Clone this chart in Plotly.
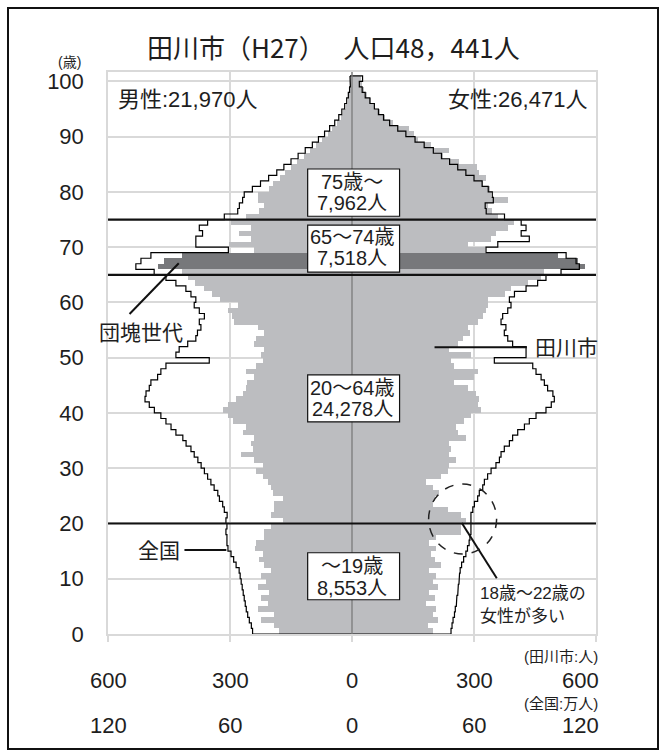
import plotly.graph_objects as go

# ---------------- data ----------------
ages = list(range(0, 101))

# Tagawa city population by age (persons)
tagawa_male = [
    180, 191, 224, 191, 232, 207, 224, 203, 232, 212,
    224, 199, 216, 228, 220, 238, 236, 216, 217, 199,
    170, 199, 191, 191, 170, 195, 199, 207, 220, 236,
    220, 240, 273, 244, 248, 240, 269, 261, 293, 306,
    318, 306, 285, 269, 261, 257, 240, 261, 236, 220,
    224, 216, 240, 236, 216, 232, 289, 294, 306, 281,
    325, 345, 365, 385, 404, 417, 476, 462, 419, 240,
    302, 248, 277, 248, 298, 261, 228, 216, 232, 232,
    205, 195, 178, 165, 150, 135, 118, 103, 88, 73,
    60, 48, 37, 28, 21, 15, 11, 7, 5, 3, 4,
]
tagawa_female = [
    198, 186, 211, 198, 207, 182, 203, 190, 211, 198,
    207, 190, 219, 203, 194, 207, 190, 207, 268, 268,
    280, 268, 235, 198, 205, 215, 198, 182, 219, 235,
    239, 256, 239, 243, 239, 280, 260, 256, 276, 293,
    317, 309, 313, 305, 285, 252, 301, 309, 252, 244,
    293, 239, 260, 272, 289, 285, 309, 321, 330, 334,
    334, 375, 391, 432, 465, 473, 572, 555, 506, 326,
    285, 342, 354, 383, 399, 358, 345, 334, 383, 342,
    340, 322, 330, 312, 308, 262, 224, 238, 194, 162,
    152, 140, 100, 82, 68, 56, 47, 38, 30, 24, 22,
]
# Japan (national) population by age (10,000 persons)
japan_male = [
    48.9, 49.5, 50.5, 51.3, 52.0, 52.5, 53.0, 53.5, 54.0, 54.5,
    55.0, 55.5, 57.0, 58.2, 59.5, 61.0, 61.5, 61.5, 62.0, 61.5,
    62.0, 61.4, 62.8, 63.6, 65.2, 66.0, 67.8, 69.4, 71.0, 72.6,
    74.2, 75.8, 77.6, 79.2, 81.6, 83.2, 86.6, 89.0, 91.5, 94.0,
    97.2, 99.7, 101.8, 101.3, 99.7, 98.9, 95.6, 94.0, 91.5, 70.2,
    86.6, 85.0, 80.8, 76.8, 76.0, 74.3, 75.1, 72.6, 75.1, 77.6,
    76.8, 79.2, 81.7, 86.6, 91.5, 97.3, 106.3, 103.8, 98.9, 60.8,
    76.8, 76.8, 73.5, 75.1, 71.0, 62.8, 56.2, 55.4, 53.8, 53.0,
    49.0, 45.0, 41.0, 37.0, 33.5, 30.0, 26.5, 23.0, 19.5, 16.5,
    13.5, 11.0, 8.5, 6.5, 5.0, 3.6, 2.6, 1.8, 1.2, 0.8, 1.0,
]
japan_female = [
    48.7, 49.2, 49.7, 50.4, 50.8, 51.3, 51.6, 52.0, 52.3, 52.6,
    52.9, 53.2, 53.9, 54.9, 56.0, 56.8, 57.6, 58.0, 58.5, 58.2,
    58.5, 58.5, 59.4, 60.2, 61.8, 62.6, 64.3, 65.1, 66.7, 68.4,
    70.8, 72.5, 73.3, 74.9, 77.4, 79.0, 81.5, 84.8, 87.2, 90.5,
    95.4, 98.0, 99.5, 98.8, 96.2, 94.6, 93.0, 90.5, 88.9, 70.0,
    85.6, 85.6, 79.0, 76.6, 74.9, 75.7, 73.3, 74.1, 76.6, 78.2,
    77.4, 79.9, 85.6, 91.3, 95.4, 102.8, 111.8, 110.2, 105.3, 65.9,
    71.7, 87.2, 83.2, 85.6, 83.2, 75.0, 66.0, 65.5, 69.5, 69.0,
    67.0, 64.0, 60.0, 56.0, 52.0, 48.0, 44.0, 40.0, 35.5, 31.0,
    26.5, 22.5, 18.5, 15.5, 13.0, 11.0, 8.8, 6.5, 5.0, 3.6, 5.2,
]
dankai_ages = [66, 67, 68]
group_labels = ["75歳～", "65～74歳", "20～64歳", "～19歳"]
group_counts = ["7,962人", "7,518人", "24,278人", "8,553人"]
boundary_ages = [20, 65, 75]
x_tickvals = [-600, -300, 0, 300, 600]
x_labels_city = ["600", "300", "0", "300", "600"]
x_labels_nation = ["120", "60", "0", "60", "120"]
y_tickvals = list(range(0, 101, 10))

# ---------------- styles / layout constants ----------------
LIGHT = "#bcbdc0"
DARK = "#77787b"
TXT = "#1e1e1e"
GRID = "#d9d9d9"
FONT = "Liberation Sans, Noto Sans CJK JP, sans-serif"
CJK = "Noto Sans CJK JP, sans-serif"

W, H = 665, 756
L, R, T, B = 108, 596, 72, 634          # plot area in pixels
Y_MAX = 101.7


def px_x(X):
    return (X - L) / (R - L)


def px_y(Y):
    return (B - Y) / (B - T)


# box extents (age units) and text line positions
box_ranges = [(75.6, 84.15), (65.5, 74.0), (38.4, 46.9), (6.2, 14.7)]
line1_y = [81.85, 71.8, 44.6, 12.3]
line2_y = [77.95, 68.0, 40.7, 8.4]
box_x = (-109, 117)

fig = go.Figure()

bar_y = [a + 0.5 for a in ages]
male_colors = [DARK if a in dankai_ages else LIGHT for a in ages]
female_colors = [DARK if a in dankai_ages else LIGHT for a in ages]

fig.add_trace(go.Bar(
    y=bar_y, x=[-v for v in tagawa_male], orientation="h", width=1,
    marker=dict(color=male_colors, line=dict(width=0)),
    hoverinfo="skip", showlegend=False,
))
fig.add_trace(go.Bar(
    y=bar_y, x=tagawa_female, orientation="h", width=1,
    marker=dict(color=female_colors, line=dict(width=0)),
    hoverinfo="skip", showlegend=False,
))

# national outline (step polygon) on a second x axis scaled in 万人
poly_x, poly_y = [], []
for a in reversed(ages):
    poly_x += [-japan_male[a], -japan_male[a]]
    poly_y += [a + 1, a]
for a in ages:
    poly_x += [japan_female[a], japan_female[a]]
    poly_y += [a, a + 1]
poly_x.append(poly_x[0])
poly_y.append(poly_y[0])
fig.add_trace(go.Scatter(
    x=poly_x, y=poly_y, xaxis="x2", mode="lines",
    line=dict(color="black", width=1.2), hoverinfo="skip", showlegend=False,
))

shapes = []
# zero line
shapes.append(dict(type="line", xref="x", yref="y", x0=0, x1=0, y0=0, y1=Y_MAX,
                   line=dict(color="#7a7a7a", width=1.3), layer="above"))
# boundary lines
for b in boundary_ages:
    shapes.append(dict(type="line", xref="paper", yref="y", x0=0, x1=1, y0=b, y1=b,
                       line=dict(color="#111111", width=2.2), layer="above"))
# group boxes
for (y0, y1) in box_ranges:
    shapes.append(dict(type="rect", xref="x", yref="y", x0=box_x[0], x1=box_x[1], y0=y0, y1=y1,
                       fillcolor="white", line=dict(color="#111111", width=1.2), layer="above"))
# pointer lines
shapes.append(dict(type="line", xref="x", yref="y", x0=-547, y0=57.9, x1=-426, y1=67.1,
                   line=dict(color="#111111", width=2), layer="above"))
shapes.append(dict(type="line", xref="x", yref="y", x0=203, y0=51.9, x1=430, y1=51.9,
                   line=dict(color="#111111", width=2), layer="above"))
shapes.append(dict(type="line", xref="x", yref="y", x0=-412, y0=15.2, x1=-309, y1=15.2,
                   line=dict(color="#111111", width=2), layer="above"))
shapes.append(dict(type="line", xref="x", yref="y", x0=270, y0=20.1, x1=356, y1=10.1,
                   line=dict(color="#111111", width=2), layer="above"))
# dashed circle
shapes.append(dict(type="circle", xref="x", yref="y", xsizemode="pixel", ysizemode="pixel",
                   xanchor=272, yanchor=20.8, x0=-34, x1=34, y0=-35, y1=35,
                   line=dict(color="#222222", width=1.5, dash="dash"), layer="above"))
# outer frame
shapes.append(dict(type="rect", xref="paper", yref="paper",
                   x0=px_x(8), x1=px_x(658), y0=px_y(749), y1=px_y(8),
                   line=dict(color="#111111", width=2), fillcolor="rgba(0,0,0,0)", layer="above"))

ann = []


def add_text(text, x, y, size, xref="x", yref="y", xanchor="center", family=FONT):
    ann.append(dict(text=text, x=x, y=y, xref=xref, yref=yref, xanchor=xanchor,
                    yanchor="middle", showarrow=False,
                    font=dict(size=size, color=TXT, family=family)))


add_text("田川市（H27）　 人口48，441人", px_x(333), px_y(46), 26, "paper", "paper", family=CJK)
add_text("(歳)", px_x(69), px_y(62), 14, "paper", "paper")
add_text("男性:21,970人", px_x(116), px_y(99), 22, "paper", "paper", xanchor="left")
add_text("女性:26,471人", px_x(589), px_y(99), 22, "paper", "paper", xanchor="right")
for i in range(4):
    add_text(group_labels[i], 0, line1_y[i], 20)
    add_text(group_counts[i], 0, line2_y[i], 20)
add_text("団塊世代", -411, 54.5, 21, xanchor="right")
add_text("田川市", 444, 51.8, 21, xanchor="left")
add_text("全国", -419, 15.2, 21, xanchor="right")
add_text("18歳～22歳の", 309, 7.42, 17, xanchor="left")
add_text("女性が多い", 309, 3.08, 17, xanchor="left")
for xv, lc, ln in zip(x_tickvals, x_labels_city, x_labels_nation):
    if xv == x_tickvals[-1]:
        add_text(lc, px_x(601), px_y(680), 22, "paper", "paper", xanchor="right")
        add_text(ln, px_x(601), px_y(725), 22, "paper", "paper", xanchor="right")
    else:
        add_text(lc, xv, px_y(680), 22, "x", "paper")
        add_text(ln, xv, px_y(725), 22, "x", "paper")
add_text("(田川市:人)", px_x(600), px_y(656), 15, "paper", "paper", xanchor="right")
add_text("(全国:万人)", px_x(600), px_y(703), 15, "paper", "paper", xanchor="right")

fig.update_layout(
    width=W, height=H,
    margin=dict(l=L, r=W - R, t=T, b=H - B, pad=0),
    paper_bgcolor="white", plot_bgcolor="white",
    barmode="overlay", bargap=0, showlegend=False,
    font=dict(family=FONT, color=TXT),
    xaxis=dict(range=[-600, 600], tickvals=x_tickvals, showticklabels=False,
               ticks="outside", ticklen=6, tickcolor=GRID, tickwidth=1.5,
               showgrid=True, gridcolor=GRID, gridwidth=1.5, zeroline=False,
               showline=True, linecolor=GRID, linewidth=1.5, mirror=True, fixedrange=True),
    xaxis2=dict(range=[-120, 120], overlaying="x", visible=False, fixedrange=True),
    yaxis=dict(range=[0, Y_MAX], tickvals=y_tickvals, tickfont=dict(size=22, color=TXT),
               showgrid=True, gridcolor=GRID, gridwidth=1.5, zeroline=False,
               showline=True, linecolor=GRID, linewidth=1.5, mirror=True,
               ticks="", ticklabelstandoff=18, fixedrange=True),
    shapes=shapes, annotations=ann,
)

fig.write_html(
    "out.html",
    config={"displayModeBar": False},
    post_script="document.body.style.margin='0';document.body.style.padding='0';document.body.style.overflow='hidden';",
)
